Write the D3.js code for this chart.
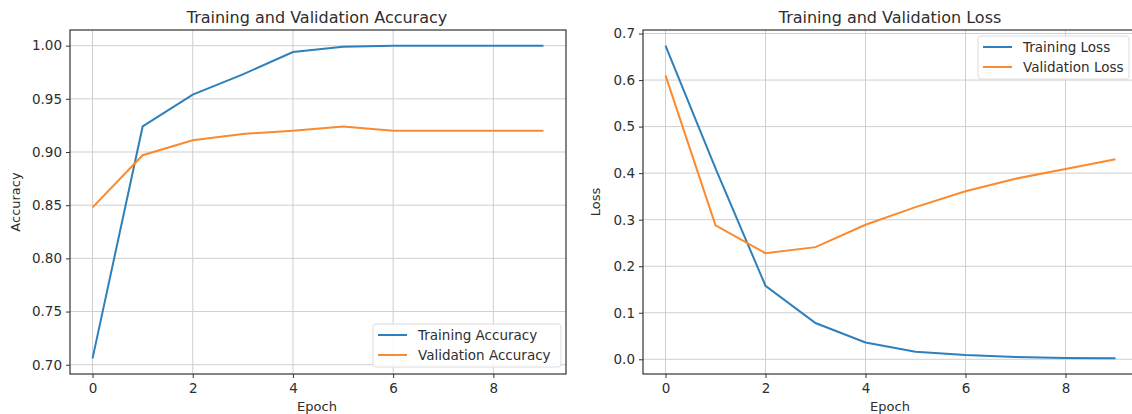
<!DOCTYPE html>
<html>
<head>
<script src="https://d3js.org/d3.v7.min.js"></script>
  <meta charset="utf-8">
  <title>Training curves</title>
  <style>
    body { margin: 0; background: #fff; }
    svg { display: block; font-family: "DejaVu Sans", sans-serif; }
    text { fill: #2e2e2e; }
  </style>
</head>
<body>
  <div id="chartArea"></div>
  <script>
  // values
  var epochs = [0, 1, 2, 3, 4, 5, 6, 7, 8, 9];
  var trainAcc = [0.706, 0.924, 0.954, 0.973, 0.994, 0.999, 1.000, 1.000, 1.000, 1.000];
  var valAcc = [0.848, 0.897, 0.911, 0.917, 0.920, 0.924, 0.920, 0.920, 0.920, 0.920];
  var trainLoss = [0.674, 0.410, 0.158, 0.078, 0.036, 0.016, 0.009, 0.005, 0.003, 0.002];
  var valLoss = [0.610, 0.288, 0.228, 0.241, 0.289, 0.327, 0.361, 0.388, 0.409, 0.430];
  var xTicks = [0, 2, 4, 6, 8];
  var accTicks = [0.70, 0.75, 0.80, 0.85, 0.90, 0.95, 1.00];
  var lossTicks = [0.0, 0.1, 0.2, 0.3, 0.4, 0.5, 0.6, 0.7];

  var colors = { train: '#2f80ba', val: '#fb8a2e' };

  var svg = d3.select('#chartArea')
    .append('svg')
    .attr('width', 1132)
    .attr('height', 414);

  svg.append('rect').attr('width', 1132).attr('height', 414).attr('fill', '#fff');

  function padded(values) {
    var ext = d3.extent(values);
    var m = (ext[1] - ext[0]) * 0.05;
    return [ext[0] - m, ext[1] + m];
  }

  function drawPanel(cfg) {
    var g = svg.append('g');
    var x = d3.scaleLinear().domain(padded(epochs)).range([cfg.left, cfg.right]);
    var y = d3.scaleLinear().domain(padded(cfg.series[0].values.concat(cfg.series[1].values)))
      .range([cfg.bottom, cfg.top]);

    // clip for plot area
    var clipId = 'clip' + cfg.id;
    svg.append('clipPath').attr('id', clipId)
      .append('rect')
      .attr('x', cfg.left).attr('y', cfg.top)
      .attr('width', cfg.right - cfg.left).attr('height', cfg.bottom - cfg.top);

    // grid
    var grid = g.append('g').attr('clip-path', 'url(#' + clipId + ')');
    grid.selectAll('line.gx').data(xTicks).enter().append('line')
      .attr('x1', function(d) { return x(d); })
      .attr('x2', function(d) { return x(d); })
      .attr('y1', cfg.top).attr('y2', cfg.bottom)
      .attr('stroke', '#cfcfcf').attr('stroke-width', 1);
    grid.selectAll('line.gy').data(cfg.yTicks).enter().append('line')
      .attr('x1', cfg.left).attr('x2', cfg.right)
      .attr('y1', function(d) { return y(d); })
      .attr('y2', function(d) { return y(d); })
      .attr('stroke', '#cfcfcf').attr('stroke-width', 1);

    // lines
    var line = d3.line()
      .x(function(d, i) { return x(epochs[i]); })
      .y(function(d) { return y(d); });
    cfg.series.forEach(function(s) {
      g.append('path')
        .attr('clip-path', 'url(#' + clipId + ')')
        .attr('d', line(s.values))
        .attr('fill', 'none')
        .attr('stroke', s.color)
        .attr('stroke-width', 2);
    });

    // frame
    g.append('rect')
      .attr('x', cfg.left).attr('y', cfg.top)
      .attr('width', cfg.right - cfg.left).attr('height', cfg.bottom - cfg.top)
      .attr('fill', 'none').attr('stroke', '#333').attr('stroke-width', 1.2);

    // axes
    var xAxis = d3.axisBottom(x).tickValues(xTicks).tickSize(4).tickPadding(5).tickFormat(d3.format('d'));
    var yAxis = d3.axisLeft(y).tickValues(cfg.yTicks).tickSize(4).tickPadding(4).tickFormat(d3.format(cfg.fmt));
    var gx = g.append('g').attr('transform', 'translate(0,' + cfg.bottom + ')').call(xAxis);
    var gy = g.append('g').attr('transform', 'translate(' + cfg.left + ',0)').call(yAxis);
    [gx, gy].forEach(function(a) {
      a.select('.domain').remove();
      a.selectAll('line').attr('stroke', '#333');
      a.selectAll('text').attr('font-size', 13.5).attr('fill', '#383838')
        .style('font-family', '"DejaVu Sans", sans-serif');
    });

    // titles
    g.append('text').attr('x', cfg.titleX).attr('y', 22.5)
      .attr('text-anchor', 'middle').attr('font-size', 16)
      .text(cfg.title);
    g.append('text').attr('x', cfg.titleX).attr('y', 411)
      .attr('text-anchor', 'middle').attr('font-size', 13)
      .text('Epoch');
    g.append('text')
      .attr('transform', 'translate(' + cfg.yLabelX + ',' + ((cfg.top + cfg.bottom) / 2) + ') rotate(-90)')
      .attr('text-anchor', 'middle').attr('font-size', 13)
      .text(cfg.yLabel);

    // legend
    var lg = g.append('g').attr('transform', 'translate(' + cfg.legend.x + ',' + cfg.legend.y + ')');
    lg.append('rect')
      .attr('width', cfg.legend.w).attr('height', 43)
      .attr('rx', 3)
      .attr('fill', '#fff').attr('fill-opacity', 0.85)
      .attr('stroke', '#dcdcdc');
    cfg.series.forEach(function(s, i) {
      var yy = 11 + i * 20;
      lg.append('line')
        .attr('x1', 5).attr('x2', 34)
        .attr('y1', yy).attr('y2', yy)
        .attr('stroke', s.color).attr('stroke-width', 2);
      lg.append('text')
        .attr('x', 45).attr('y', yy + 4.5)
        .attr('font-size', 13.5)
        .text(s.label);
    });
  }

  drawPanel({
    id: 'acc',
    left: 70, right: 566, top: 30, bottom: 374,
    titleX: 317,
    yLabelX: 20,
    yLabel: 'Accuracy',
    title: 'Training and Validation Accuracy',
    yTicks: accTicks,
    fmt: '.2f',
    series: [
      { label: 'Training Accuracy', values: trainAcc, color: colors.train },
      { label: 'Validation Accuracy', values: valAcc, color: colors.val }
    ],
    legend: { x: 373, y: 324, w: 188 }
  });

  drawPanel({
    id: 'loss',
    left: 643, right: 1138, top: 30, bottom: 374,
    titleX: 890,
    yLabelX: 600,
    yLabel: 'Loss',
    title: 'Training and Validation Loss',
    yTicks: lossTicks,
    fmt: '.1f',
    series: [
      { label: 'Training Loss', values: trainLoss, color: colors.train },
      { label: 'Validation Loss', values: valLoss, color: colors.val }
    ],
    legend: { x: 978, y: 36, w: 151 }
  });
  </script>
</body>
</html>
